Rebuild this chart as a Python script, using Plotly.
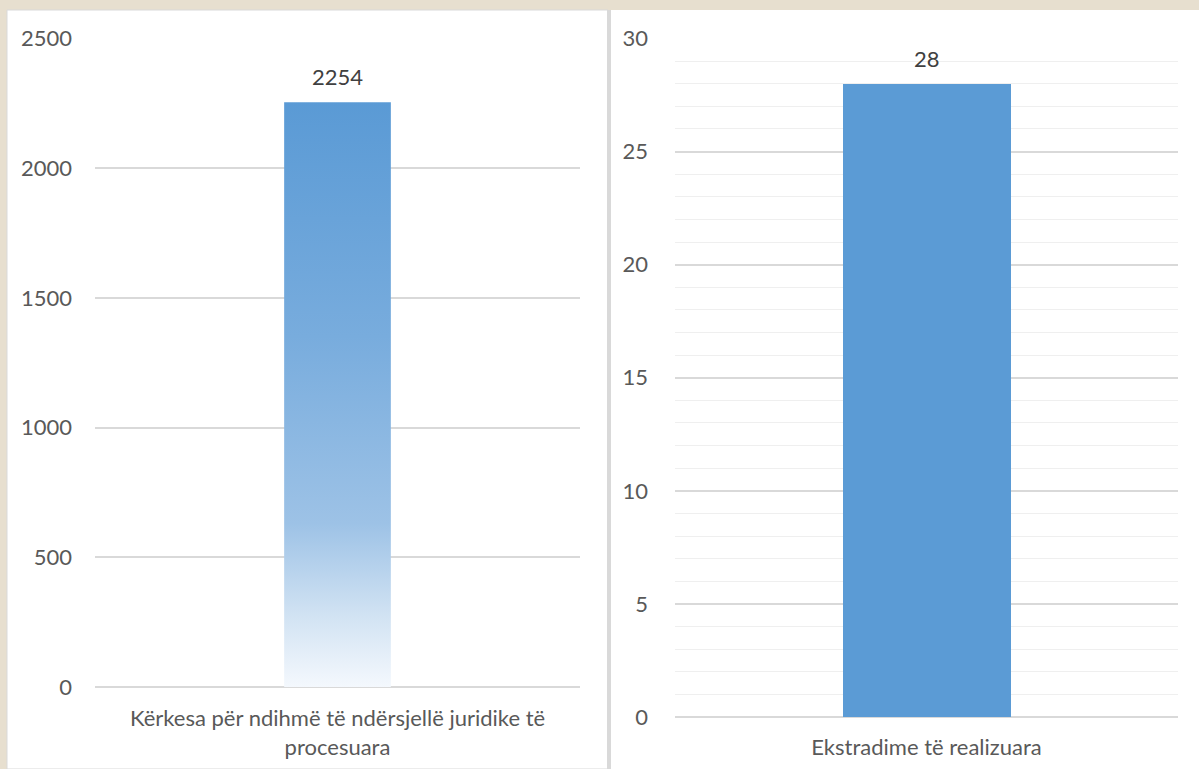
import plotly.graph_objects as go

# Data
left_categories = ["Kërkesa për ndihmë të ndërsjellë juridike të<br>procesuara"]
left_values = [2254]
right_categories = ["Ekstradime të realizuara"]
right_values = [28]
left_ticks = [0, 500, 1000, 1500, 2000, 2500]
right_ticks = [0, 5, 10, 15, 20, 25, 30]

W, H = 1199, 769
FONT = "Lato"
TXT = "#595959"
BLUE = "#5B9BD5"
FS = 22

def px_x(p):
    return p / W

def px_y(p):
    return (H - p) / H

fig = go.Figure()

# Left chart: gradient bar drawn as filled polygon on a linear axis
bw_left = 0.22
annotations = []
for i, v in enumerate(left_values):
    xs = [i - bw_left / 2, i + bw_left / 2, i + bw_left / 2, i - bw_left / 2, i - bw_left / 2]
    ys = [0, 0, v, v, 0]
    fig.add_trace(go.Scatter(
        x=xs, y=ys, mode="lines", fill="toself",
        line=dict(width=0, color="rgba(0,0,0,0)"),
        fillgradient=dict(type="vertical",
                          colorscale=[[0, "#f4f8fd"], [0.12, "#d2e3f3"],
                                      [0.28, "#9dc2e6"], [0.6, "#78acdd"],
                                      [1, "#5a9ad5"]]),
        hoverinfo="skip", showlegend=False, xaxis="x", yaxis="y"))
    annotations.append(dict(x=i, y=v, xref="x", yref="y", text=str(v),
                            showarrow=False, yanchor="middle", yshift=26,
                            font=dict(family=FONT, size=FS, color="#404040")))

# Right chart
fig.add_trace(go.Bar(
    x=right_categories, y=right_values, width=0.334,
    marker=dict(color=BLUE, line=dict(width=0)),
    showlegend=False, xaxis="x2", yaxis="y2"))
for c, v in zip(right_categories, right_values):
    annotations.append(dict(x=c, y=v, xref="x2", yref="y2", text=str(v),
                            showarrow=False, yanchor="middle", yshift=25,
                            font=dict(family=FONT, size=FS, color="#404040")))

shapes = [
    # left panel
    dict(type="rect", xref="paper", yref="paper",
         x0=px_x(7), x1=px_x(608), y0=0, y1=px_y(10),
         fillcolor="white", line=dict(color="#d9d9d9", width=1), layer="below"),
    # separator
    dict(type="rect", xref="paper", yref="paper",
         x0=px_x(607), x1=px_x(611), y0=0, y1=px_y(10),
         fillcolor="#d9d9d9", line=dict(width=0), layer="below"),
    # right panel
    dict(type="rect", xref="paper", yref="paper",
         x0=px_x(611), x1=1.0, y0=0, y1=px_y(10),
         fillcolor="white", line=dict(width=0), layer="below"),
]

tf = dict(family=FONT, size=FS, color=TXT)
fig.update_layout(
    width=W, height=H,
    margin=dict(l=0, r=0, t=0, b=0, autoexpand=False),
    paper_bgcolor="#e7dfcf",
    plot_bgcolor="rgba(0,0,0,0)",
    font=dict(family=FONT, size=FS, color=TXT),
    shapes=shapes,
    annotations=annotations,
    showlegend=False,
    xaxis=dict(domain=[px_x(95), px_x(580)], range=[-0.5, 0.5], anchor="y",
               tickvals=list(range(len(left_categories))), ticktext=left_categories,
               showgrid=False, zeroline=False, showline=False, ticks="",
               ticklabelstandoff=16, tickfont=tf, automargin=False, fixedrange=True),
    yaxis=dict(domain=[px_y(687), px_y(38.5)], range=[0, 2500], anchor="x",
               tickvals=left_ticks, showgrid=True, gridcolor="#d9d9d9", gridwidth=1.5,
               zeroline=True, zerolinecolor="#d9d9d9", zerolinewidth=1.5,
               showline=False, ticks="", ticklabelstandoff=22,
               tickfont=tf, automargin=False),
    xaxis2=dict(domain=[px_x(675), px_x(1178)], type="category", range=[-0.5, 0.5],
                anchor="y2",
                showgrid=False, zeroline=False, showline=False, ticks="",
                ticklabelstandoff=15, tickfont=tf, automargin=False),
    yaxis2=dict(domain=[px_y(717), px_y(38.5)], range=[0, 30], anchor="x2",
                tickvals=right_ticks, showgrid=True, gridcolor="#d9d9d9", gridwidth=1.5,
                zeroline=True, zerolinecolor="#d9d9d9", zerolinewidth=1.5,
                minor=dict(dtick=1, showgrid=True, gridcolor="#efefef", gridwidth=1.2),
                showline=False, ticks="", ticklabelstandoff=26,
                tickfont=tf, automargin=False),
    bargap=0,
)

fig.write_html("out.html", config={"displayModeBar": False},
               post_script="document.body.style.margin='0';document.body.style.overflow='hidden';")
